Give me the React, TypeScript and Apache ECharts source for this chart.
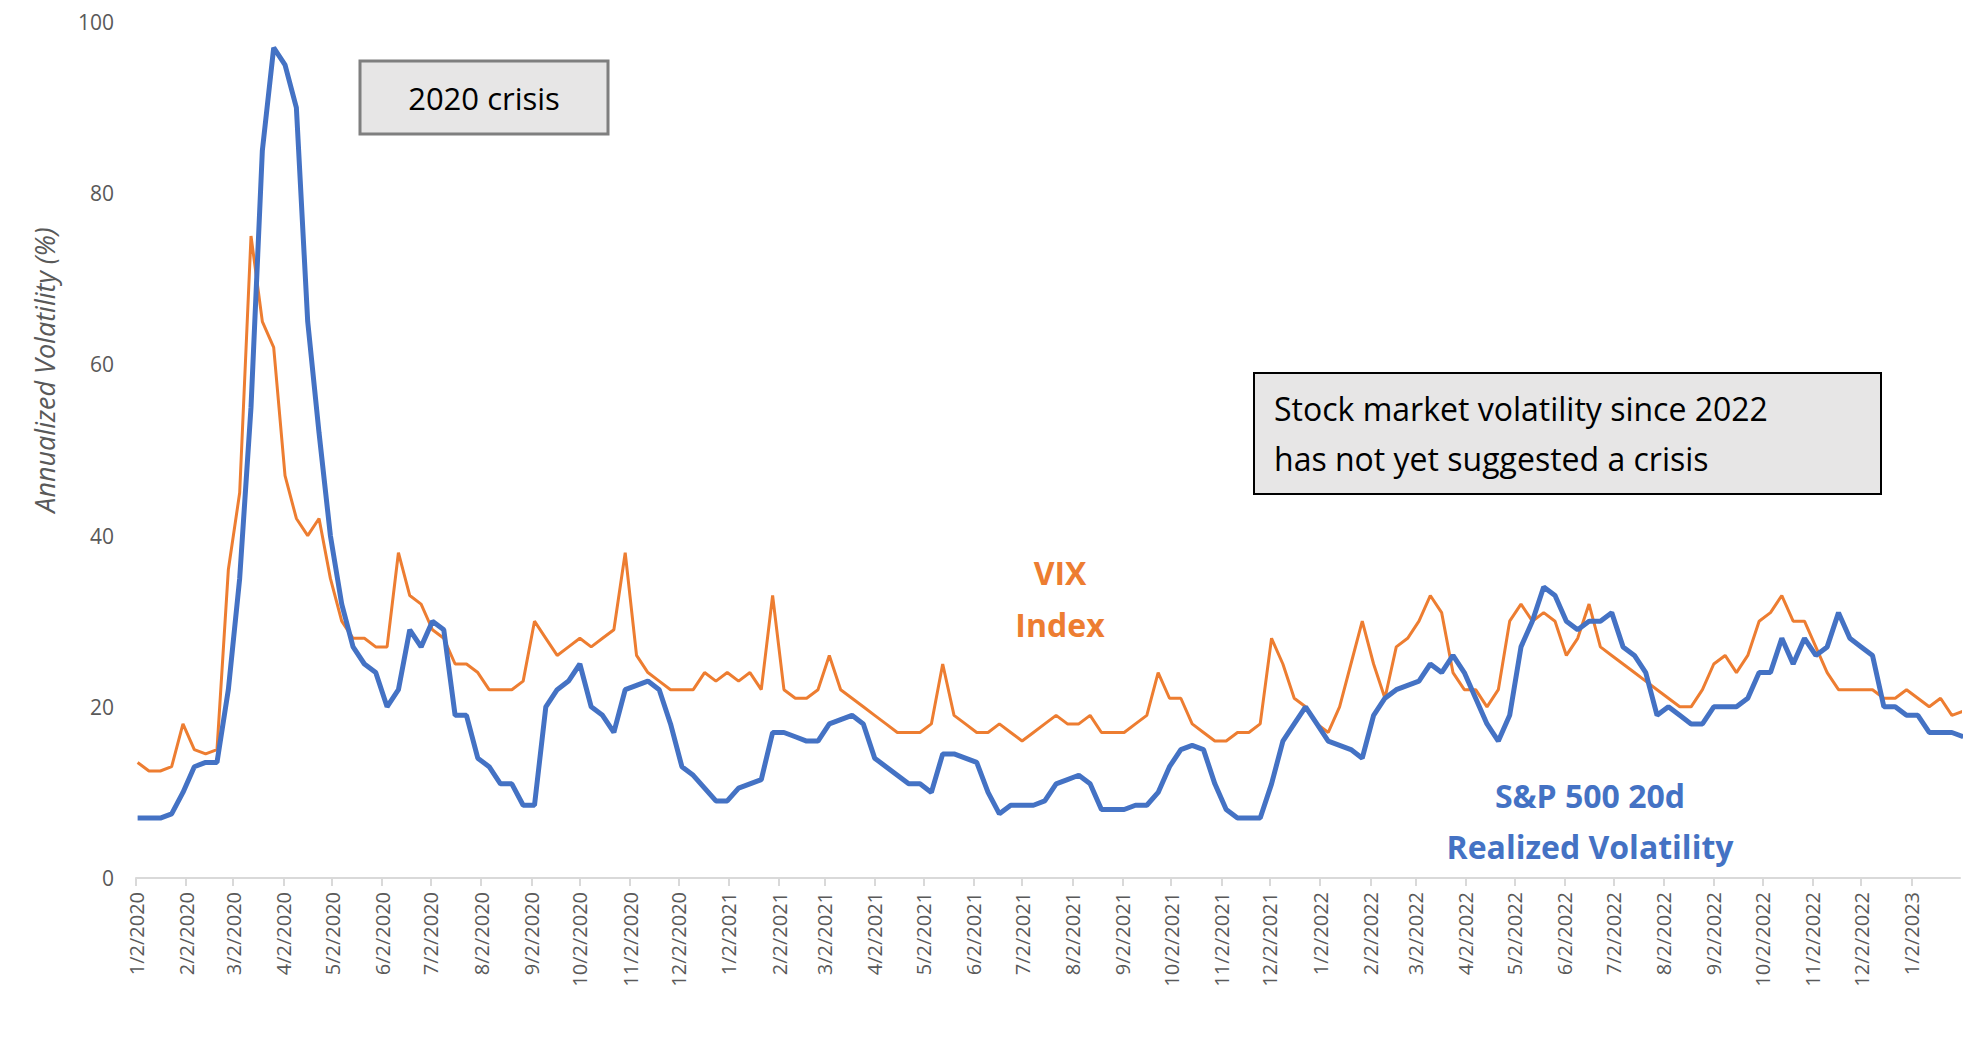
import { useEffect, useRef } from 'react'
import * as echarts from 'echarts'

// weekly observations starting 1/2/2020
const START = Date.UTC(2020, 0, 2)
const WEEK = 7 * 86400000
const AXIS_MIN = Date.UTC(2020, 0, 1)
const AXIS_MAX = Date.UTC(2023, 0, 31)

const VIX = [
  13.5, 12.5, 12.5, 13, 18, 15, 14.5, 15, 36, 45, 75, 65, 62, 47, 42, 40, 42, 35, 30, 28,
  28, 27, 27, 38, 33, 32, 29, 28, 25, 25, 24, 22, 22, 22, 23, 30, 28, 26, 27, 28,
  27, 28, 29, 38, 26, 24, 23, 22, 22, 22, 24, 23, 24, 23, 24, 22, 33, 22, 21, 21,
  22, 26, 22, 21, 20, 19, 18, 17, 17, 17, 18, 25, 19, 18, 17, 17, 18, 17, 16, 17,
  18, 19, 18, 18, 19, 17, 17, 17, 18, 19, 24, 21, 21, 18, 17, 16, 16, 17, 17, 18,
  28, 25, 21, 20, 18, 17, 20, 25, 30, 25, 21, 27, 28, 30, 33, 31, 24, 22, 22, 20,
  22, 30, 32, 30, 31, 30, 26, 28, 32, 27, 26, 25, 24, 23, 22, 21, 20, 20, 22, 25,
  26, 24, 26, 30, 31, 33, 30, 30, 27, 24, 22, 22, 22, 22, 21, 21, 22, 21, 20, 21,
  19, 19.5,
]

const RV = [
  7, 7, 7, 7.5, 10, 13, 13.5, 13.5, 22, 35, 55, 85, 97, 95, 90, 65, 52, 40, 32, 27,
  25, 24, 20, 22, 29, 27, 30, 29, 19, 19, 14, 13, 11, 11, 8.5, 8.5, 20, 22, 23, 25,
  20, 19, 17, 22, 22.5, 23, 22, 18, 13, 12, 10.5, 9, 9, 10.5, 11, 11.5, 17, 17, 16.5, 16,
  16, 18, 18.5, 19, 18, 14, 13, 12, 11, 11, 10, 14.5, 14.5, 14, 13.5, 10, 7.5, 8.5, 8.5, 8.5,
  9, 11, 11.5, 12, 11, 8, 8, 8, 8.5, 8.5, 10, 13, 15, 15.5, 15, 11, 8, 7, 7, 7,
  11, 16, 18, 20, 18, 16, 15.5, 15, 14, 19, 21, 22, 22.5, 23, 25, 24, 26, 24, 21, 18,
  16, 19, 27, 30, 34, 33, 30, 29, 30, 30, 31, 27, 26, 24, 19, 20, 19, 18, 18, 20,
  20, 20, 21, 24, 24, 28, 25, 28, 26, 27, 31, 28, 27, 26, 20, 20, 19, 19, 17, 17,
  17, 16.5,
]

const Y_TICKS = [0, 20, 40, 60, 80, 100]

const FONT = '"Open Sans", "Liberation Sans", sans-serif'
const GRAY = '#595959'

export default function App() {
  const ref = useRef<HTMLDivElement>(null)

  useEffect(() => {
    if (!ref.current) return
    const chart = echarts.init(ref.current, null, { renderer: 'svg' })
    const vix = VIX.map((v, i) => [START + i * WEEK, v])
    const rv = RV.map((v, i) => [START + i * WEEK, v])

    chart.setOption({
      animation: false,
      backgroundColor: '#ffffff',
      grid: { left: 128, right: 12, top: 14, bottom: 158 },
      xAxis: {
        type: 'time',
        min: AXIS_MIN,
        max: AXIS_MAX,
        minInterval: 28 * 86400000,
        maxInterval: 31 * 86400000,
        axisLine: { lineStyle: { color: '#d9d9d9', width: 2 } },
        axisTick: { show: true, length: 8, lineStyle: { color: '#d9d9d9', width: 2 } },
        splitLine: { show: false },
        axisLabel: {
          rotate: 90,
          color: GRAY,
          fontSize: 20,
          fontFamily: FONT,
          margin: 14,
          hideOverlap: false,
          showMinLabel: true,
          formatter: (val: number) => {
            const d = new Date(val)
            return `${d.getUTCMonth() + 1}/2/${d.getUTCFullYear()}`
          },
        },
      },
      yAxis: {
        type: 'value',
        min: Y_TICKS[0],
        max: Y_TICKS[Y_TICKS.length - 1],
        interval: 20,
        axisLine: { show: false },
        axisTick: { show: false },
        splitLine: { show: false },
        axisLabel: { color: GRAY, fontSize: 21, fontFamily: FONT, margin: 22 },
      },
      series: [
        {
          name: 'VIX Index',
          type: 'line',
          data: vix,
          showSymbol: false,
          clip: true,
          lineStyle: { color: '#ed7d31', width: 3 },
          z: 2,
        },
        {
          name: 'S&P 500 20d Realized Volatility',
          type: 'line',
          data: rv,
          showSymbol: false,
          clip: true,
          lineStyle: { color: '#4472c4', width: 5 },
          z: 3,
        },
      ],
      graphic: [
        {
          type: 'text', x: 36, y: 362, rotation: Math.PI / 2,
          style: {
            text: 'Annualized Volatility (%)', fill: GRAY, font: `italic 27px ${FONT}`,
            align: 'center', verticalAlign: 'middle',
          },
        },
        {
          type: 'rect', shape: { x: 352, y: 53, width: 248, height: 73 },
          style: { fill: '#e7e6e6', stroke: '#7f7f7f', lineWidth: 3 },
        },
        {
          type: 'text', x: 476, y: 90,
          style: { text: '2020 crisis', fill: '#000', font: `31px ${FONT}`, align: 'center', verticalAlign: 'middle' },
        },
        {
          type: 'rect', shape: { x: 1246, y: 365, width: 627, height: 121 },
          style: { fill: '#e7e6e6', stroke: '#000', lineWidth: 2 },
        },
        {
          type: 'text', x: 1266, y: 425,
          style: {
            text: 'Stock market volatility since 2022\nhas not yet suggested a crisis',
            fill: '#000', font: `32px ${FONT}`, lineHeight: 50, align: 'left', verticalAlign: 'middle',
          },
        },
        {
          type: 'text', x: 1052, y: 590,
          style: {
            text: 'VIX\nIndex', fill: '#ed7d31', font: `bold 32px ${FONT}`, lineHeight: 52,
            align: 'center', verticalAlign: 'middle',
          },
        },
        {
          type: 'text', x: 1582, y: 813,
          style: {
            text: 'S&P 500 20d\nRealized Volatility', fill: '#4472c4', font: `bold 32px ${FONT}`, lineHeight: 51,
            align: 'center', verticalAlign: 'middle',
          },
        },
      ],
    })
    return () => chart.dispose()
  }, [])

  return <div ref={ref} style={{ width: 1964, height: 1028 }} />
}
